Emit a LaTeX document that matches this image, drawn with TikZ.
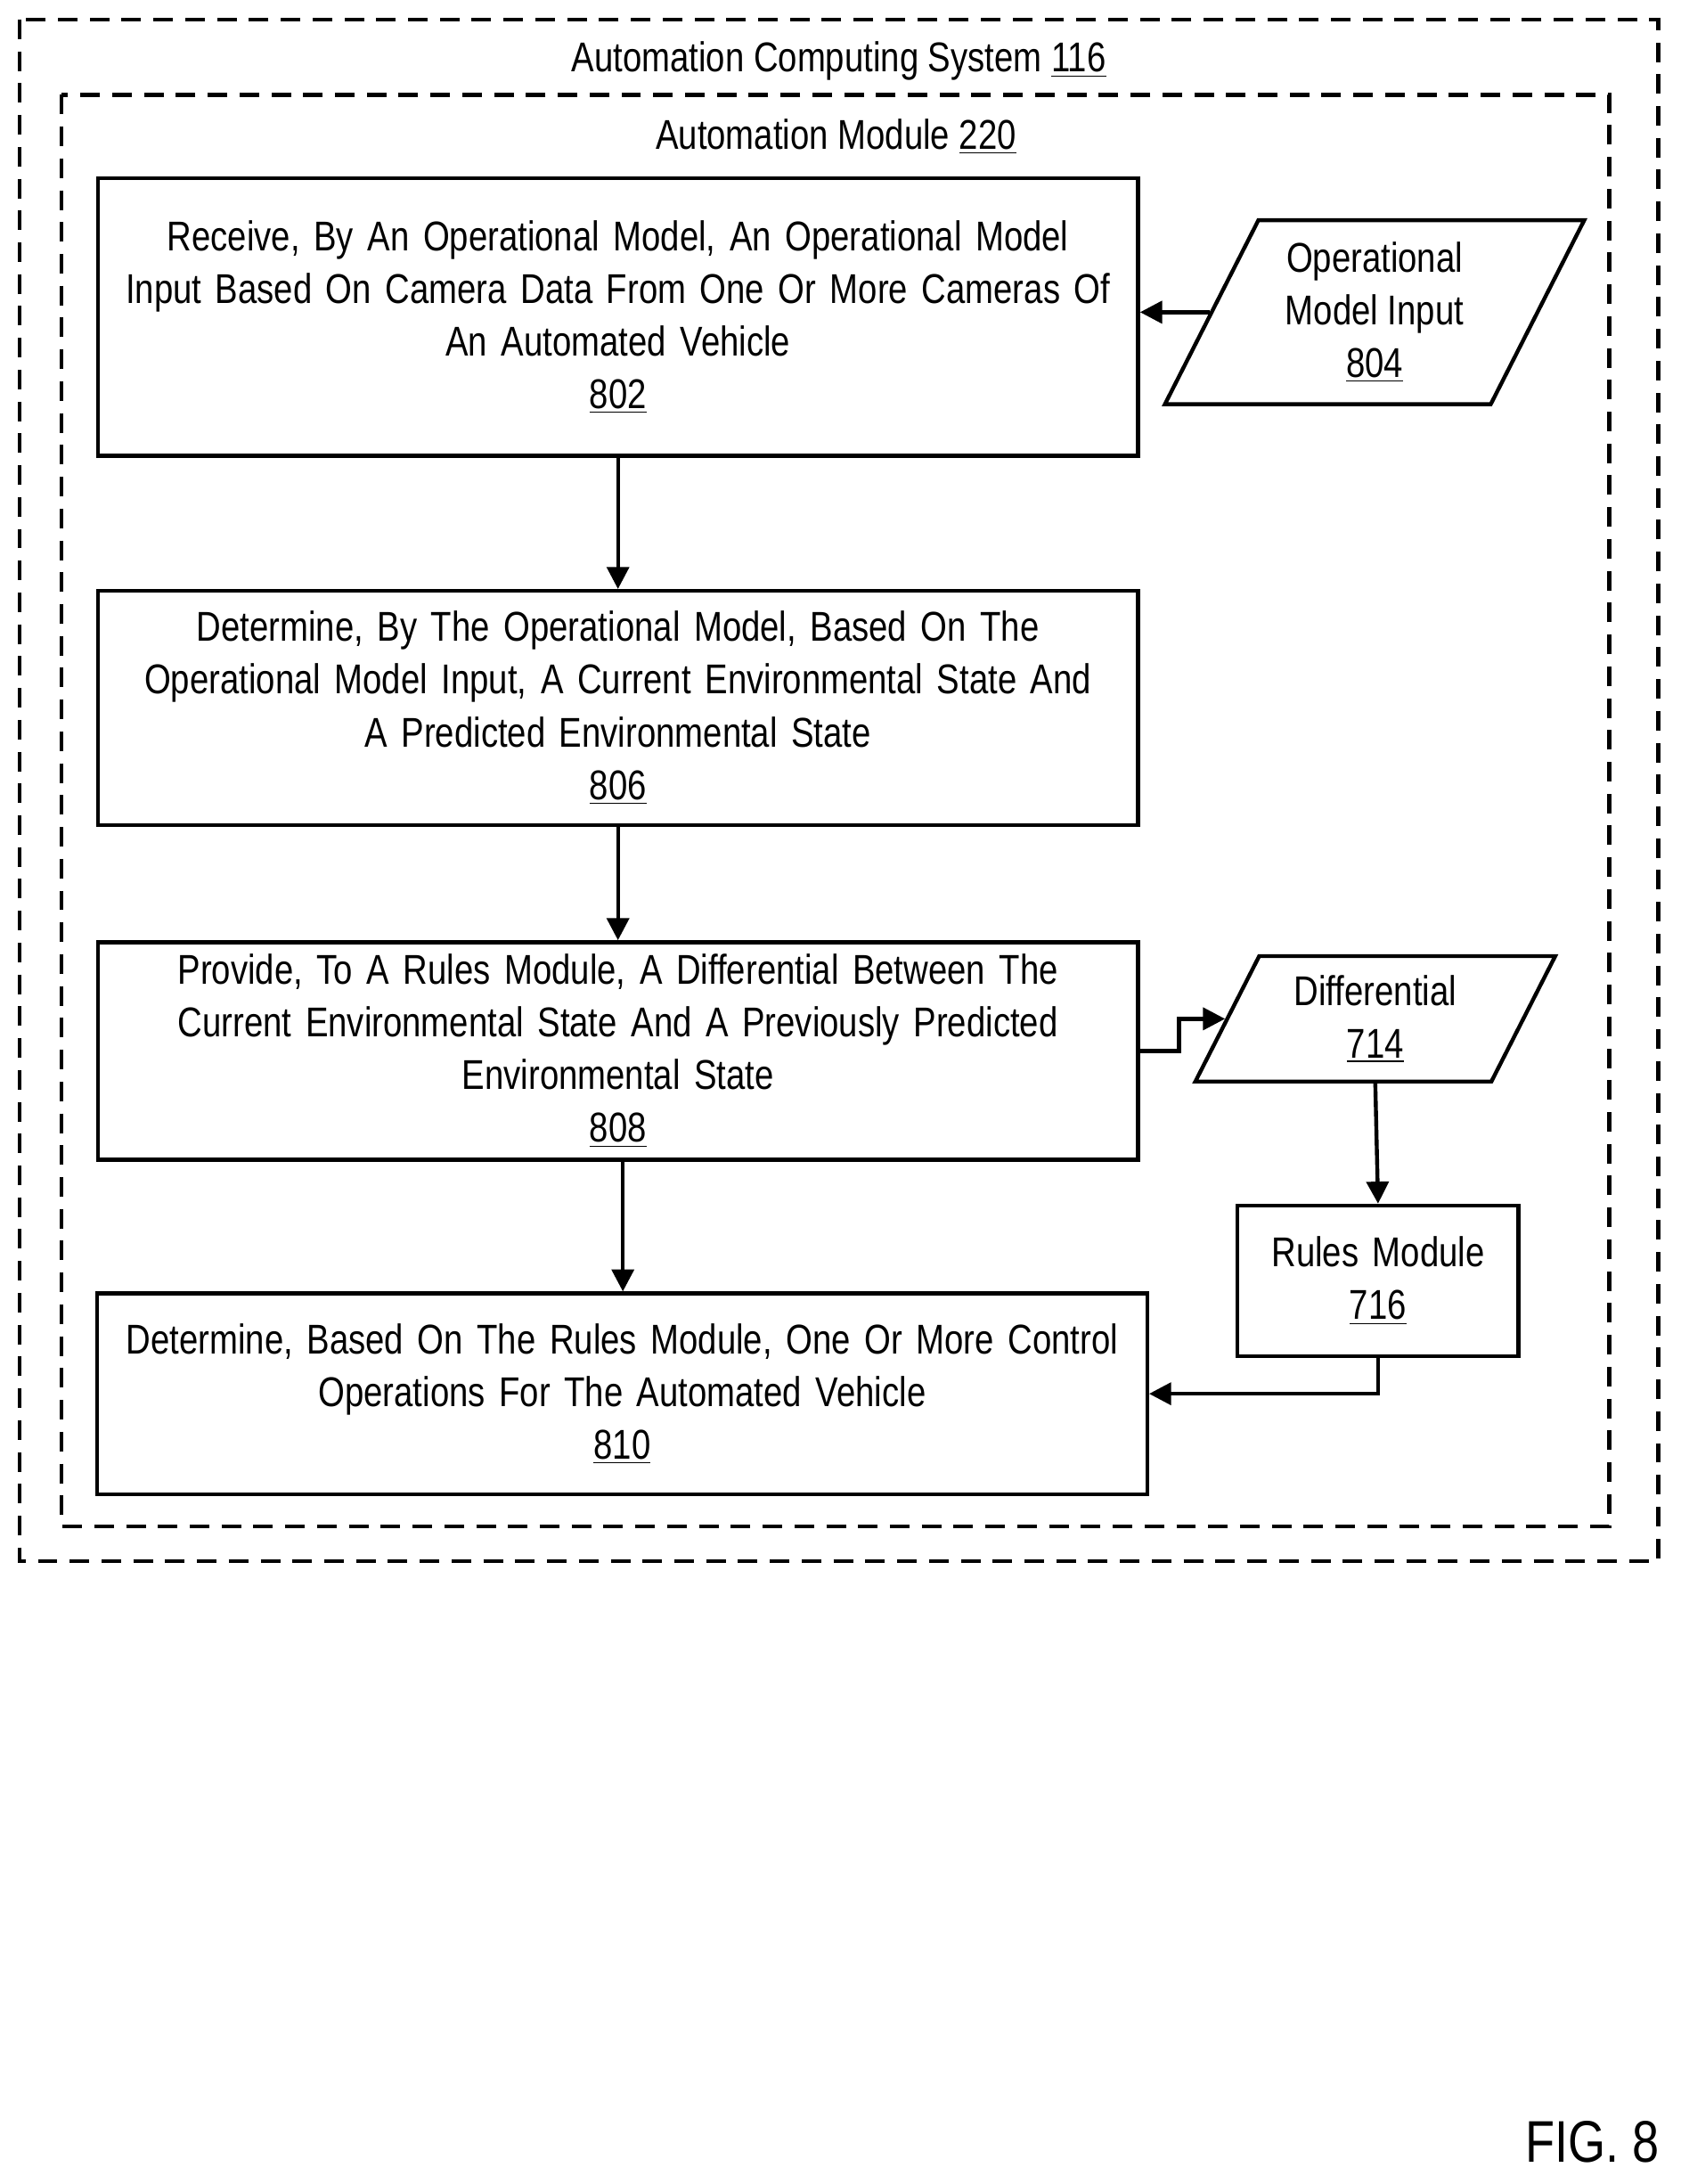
\documentclass[tikz,border=0pt]{standalone}
\usepackage{fontspec}
\setmainfont{Liberation Sans}[FakeStretch=0.82]
\usetikzlibrary{shapes.geometric,positioning,arrows.meta}
\tikzset{
  stepbox/.style={draw,line width=1.6pt,align=center,font=\fontsize{17}{21.5}\selectfont},
  data/.style={draw,line width=1.6pt,trapezium,trapezium left angle=63,trapezium right angle=117,align=center,font=\fontsize{17}{21.5}\selectfont,inner sep=0pt},
  flow/.style={-{Triangle[length=9pt,width=9pt]},line width=1.6pt},
  frame/.style={line width=1.6pt,dash pattern=on 8pt off 5pt}
}
\begin{document}
\begin{tikzpicture}[x=0.02cm,y=-0.02cm]
\useasboundingbox (0,0) rectangle (1206,1567);
\draw[frame] (14,14) rectangle (1190,1120);
\draw[frame] (44,68) rectangle (1155,1095);
\node[font=\fontsize{17}{21.5}\selectfont] (sys) at (602,44) {Automation Computing System \underline{116}};
\node[font=\fontsize{17}{21.5}\selectfont] (mod) at (600,98) {Automation Module \underline{220}};
% steps
\node[stepbox,text width=14.7cm,minimum height=3.98cm] (s802) at (443.5,227.5) {Receive, By An Operational Model, An Operational Model\\Input Based On Camera Data From One Or More Cameras Of\\An Automated Vehicle\\\underline{802}};
\node[stepbox,text width=14.7cm,minimum height=3.36cm] (s806) at (443.5,508) {Determine, By The Operational Model, Based On The\\Operational Model Input, A Current Environmental State And\\A Predicted Environmental State\\\underline{806}};
\node[stepbox,text width=14.7cm,minimum height=3.12cm] (s808) at (443.5,754) {Provide, To A Rules Module, A Differential Between The\\Current Environmental State And A Previously Predicted\\Environmental State\\\underline{808}};
\node[stepbox,text width=14.84cm,minimum height=2.88cm] (s810) at (446.5,1000) {Determine, Based On The Rules Module, One Or More Control\\Operations For The Automated Vehicle\\\underline{810}};
\node[stepbox,text width=3.8cm,minimum height=2.16cm] (r716) at (989,919) {Rules Module\\\underline{716}};
% data
\node[data,minimum width=4.76cm,minimum height=2.64cm] (d804) at (986.5,224) {Operational\\Model Input\\\underline{804}};
\node[data,minimum width=4.38cm,minimum height=1.8cm] (d714) at (987,731) {Differential\\\underline{714}};
% connectors
\draw[flow] (d804.west) -- (s802.east |- d804.west);
\draw[flow] (s802) -- (s806);
\draw[flow] (s806) -- (s808);
\draw[flow] (s808.south -| 447,0) -- (s810.north -| 447,0);
\draw[flow] (s808.east) -- ++(28,0) |- (d714.west);
\draw[flow] (d714.south) -- (r716.north);
\draw[flow] (r716.south) |- (s810.east);
\node[font=\fontsize{24}{28}\selectfont] (fig) at (1143,1537) {FIG. 8};
\end{tikzpicture}
\end{document}
